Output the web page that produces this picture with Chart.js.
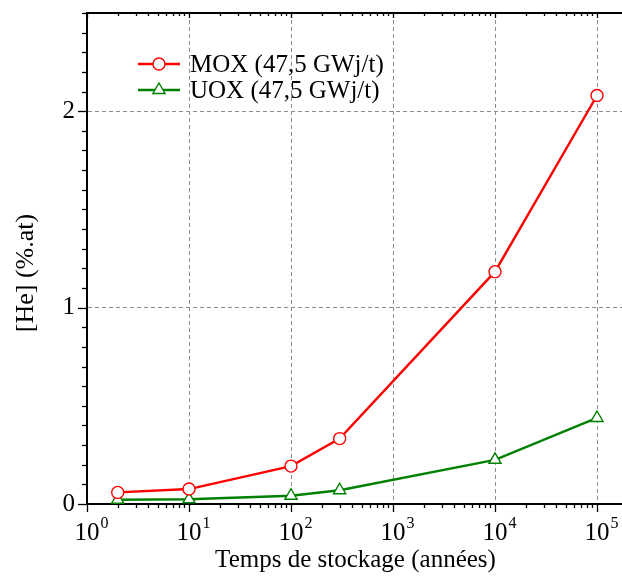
<!DOCTYPE html>
<html>
<head>
<meta charset="utf-8">
<script src="https://cdn.jsdelivr.net/npm/chart.js@4/dist/chart.umd.min.js"></script>
<style>
  html, body { margin: 0; padding: 0; background: #fff; }
  #wrap { width: 622px; height: 576px; }
</style>
</head>
<body>
<div id="wrap"><canvas id="c" width="622" height="576"></canvas></div>
<script>
// Helium content vs storage time
const years = [2, 10, 100, 300, 10000, 100000];
const moxHe = [0.059, 0.076, 0.193, 0.333, 1.183, 2.080];
const uoxHe = [0.022, 0.024, 0.042, 0.070, 0.225, 0.438];
const xDecadeExponents = [0, 1, 2, 3, 4, 5];
const yTickValues = [0, 1, 2];
const seriesLabels = ['MOX (47,5 GWj/t)', 'UOX (47,5 GWj/t)'];
const xTitle = 'Temps de stockage (années)';
const yTitle = '[He] (%.at)';

const FONT = '"Liberation Serif", "Times New Roman", serif';
const MOX_COLOR = '#ff0000';
const UOX_COLOR = '#008000';
const GRID_COLOR = '#8c8c8c';
const LINE_W = 2.4;

const isPow10 = v => v > 0 && Math.abs(Math.log10(v) - Math.round(Math.log10(v))) < 1e-9;

// Frame extras: top border, minor/major tick marks, superscript labels, titles, legend
const frame = {
  id: 'frame',
  afterDraw(chart) {
    const { ctx, chartArea: a, scales: { x, y } } = chart;
    ctx.save();
    ctx.strokeStyle = '#000';
    ctx.lineWidth = 2;
    ctx.beginPath();
    ctx.moveTo(a.left, a.top);
    ctx.lineTo(a.right, a.top);
    ctx.stroke();

    // x tick marks (log decades with 2..9 minors)
    ctx.lineWidth = 1.3;
    for (const e of xDecadeExponents) {
      for (let k = 1; k <= 9; k++) {
        const v = k * Math.pow(10, e);
        if (v < x.min || v > x.max) continue;
        const px = Math.round(x.getPixelForValue(v)) + 0.5;
        const major = k === 1;
        ctx.beginPath();
        ctx.moveTo(px, a.bottom);
        ctx.lineTo(px, a.bottom + (major ? 8 : 4));
        ctx.moveTo(px, a.top);
        ctx.lineTo(px, a.top + (major ? 5 : 3));
        ctx.stroke();
      }
    }
    // y tick marks every 0.1
    for (let i = 0; i <= 25; i++) {
      const v = i / 10;
      if (v > y.max) break;
      const py = Math.round(y.getPixelForValue(v)) + 0.5;
      const major = i % 10 === 0;
      ctx.beginPath();
      ctx.moveTo(a.left - (major ? 9 : 5), py);
      ctx.lineTo(a.left, py);
      ctx.stroke();
    }

    // x labels 10^n
    ctx.fillStyle = '#000';
    ctx.textBaseline = 'alphabetic';
    for (const e of xDecadeExponents) {
      const px = x.getPixelForValue(Math.pow(10, e));
      ctx.font = `25px ${FONT}`;
      ctx.textAlign = 'center';
      ctx.fillText('10', px, 540);
      const w = ctx.measureText('10').width;
      ctx.font = `16px ${FONT}`;
      ctx.textAlign = 'left';
      ctx.fillText(String(e), px + w / 2 + 1, 528);
    }

    // axis titles
    ctx.font = `25px ${FONT}`;
    ctx.textAlign = 'center';
    ctx.fillText(xTitle, (a.left + a.right) / 2 + 1, 567);
    ctx.save();
    ctx.font = `26px ${FONT}`;
    ctx.translate(33, 273);
    ctx.rotate(-Math.PI / 2);
    ctx.fillText(yTitle, 0, 0);
    ctx.restore();

    // legend
    const rows = [
      { label: seriesLabels[0], color: MOX_COLOR, style: 'circle', r: 6, y: 64 },
      { label: seriesLabels[1], color: UOX_COLOR, style: 'triangle', r: 7, y: 90 }
    ];
    for (const row of rows) {
      ctx.strokeStyle = row.color;
      ctx.lineWidth = LINE_W;
      ctx.beginPath();
      ctx.moveTo(138, row.y);
      ctx.lineTo(180, row.y);
      ctx.stroke();
      ctx.fillStyle = '#fff';
      ctx.lineWidth = 1.4;
      Chart.helpers.drawPoint(ctx, { pointStyle: row.style, radius: row.r, rotation: 0, borderWidth: 1.4 }, 159, row.y);
      ctx.fillStyle = '#000';
      ctx.font = `25px ${FONT}`;
      ctx.textAlign = 'left';
      ctx.textBaseline = 'middle';
      ctx.fillText(row.label, 190, row.y + 1);
    }
    ctx.restore();
  }
};

// fixed axis footprint so the plot area sits at a set place
const fixBox = (w, h) => s => {
  if (w !== null) s.width = w;
  if (h !== null) s.height = h;
  s.paddingTop = 0; s.paddingBottom = 0; s.paddingLeft = 0; s.paddingRight = 0;
};

new Chart(document.getElementById('c'), {
  type: 'line',
  data: {
    datasets: [
      {
        label: seriesLabels[0],
        data: years.map((t, i) => ({ x: t, y: moxHe[i] })),
        borderColor: MOX_COLOR,
        borderWidth: LINE_W,
        pointStyle: 'circle',
        pointRadius: 6,
        pointBackgroundColor: '#fff',
        pointBorderColor: MOX_COLOR,
        pointBorderWidth: 1.4,
        tension: 0,
        clip: false
      },
      {
        label: seriesLabels[1],
        data: years.map((t, i) => ({ x: t, y: uoxHe[i] })),
        borderColor: UOX_COLOR,
        borderWidth: LINE_W,
        pointStyle: 'triangle',
        pointRadius: 7,
        pointBackgroundColor: '#fff',
        pointBorderColor: UOX_COLOR,
        pointBorderWidth: 1.4,
        tension: 0,
        clip: false
      }
    ]
  },
  options: {
    responsive: false,
    animation: false,
    devicePixelRatio: 1,
    layout: { autoPadding: false, padding: { top: 13, left: 0, right: 0, bottom: 0 } },
    plugins: { legend: { display: false }, tooltip: { enabled: false } },
    scales: {
      x: {
        type: 'logarithmic',
        min: 1,
        max: Math.pow(10, 535 / 102),
        ticks: { display: false },
        grid: {
          drawTicks: false,
          color: c => (c.tick && isPow10(c.tick.value) && c.tick.value > 1) ? GRID_COLOR : 'transparent',
          lineWidth: 1
        },
        border: { display: true, color: '#000', width: 2, dash: [4, 3] },
        afterFit: fixBox(null, 72)
      },
      y: {
        type: 'linear',
        min: 0,
        max: 2.5,
        ticks: {
          stepSize: 1,
          padding: 12,
          color: '#000',
          font: { family: FONT, size: 25 },
          callback: v => yTickValues.includes(v) ? String(v) : ''
        },
        grid: {
          drawTicks: false,
          color: c => (c.tick && c.tick.value > 0 && yTickValues.includes(c.tick.value)) ? GRID_COLOR : 'transparent',
          lineWidth: 1
        },
        border: { display: true, color: '#000', width: 2, dash: [4, 3] },
        afterFit: fixBox(87, null)
      }
    }
  },
  plugins: [frame]
});
</script>
</body>
</html>
